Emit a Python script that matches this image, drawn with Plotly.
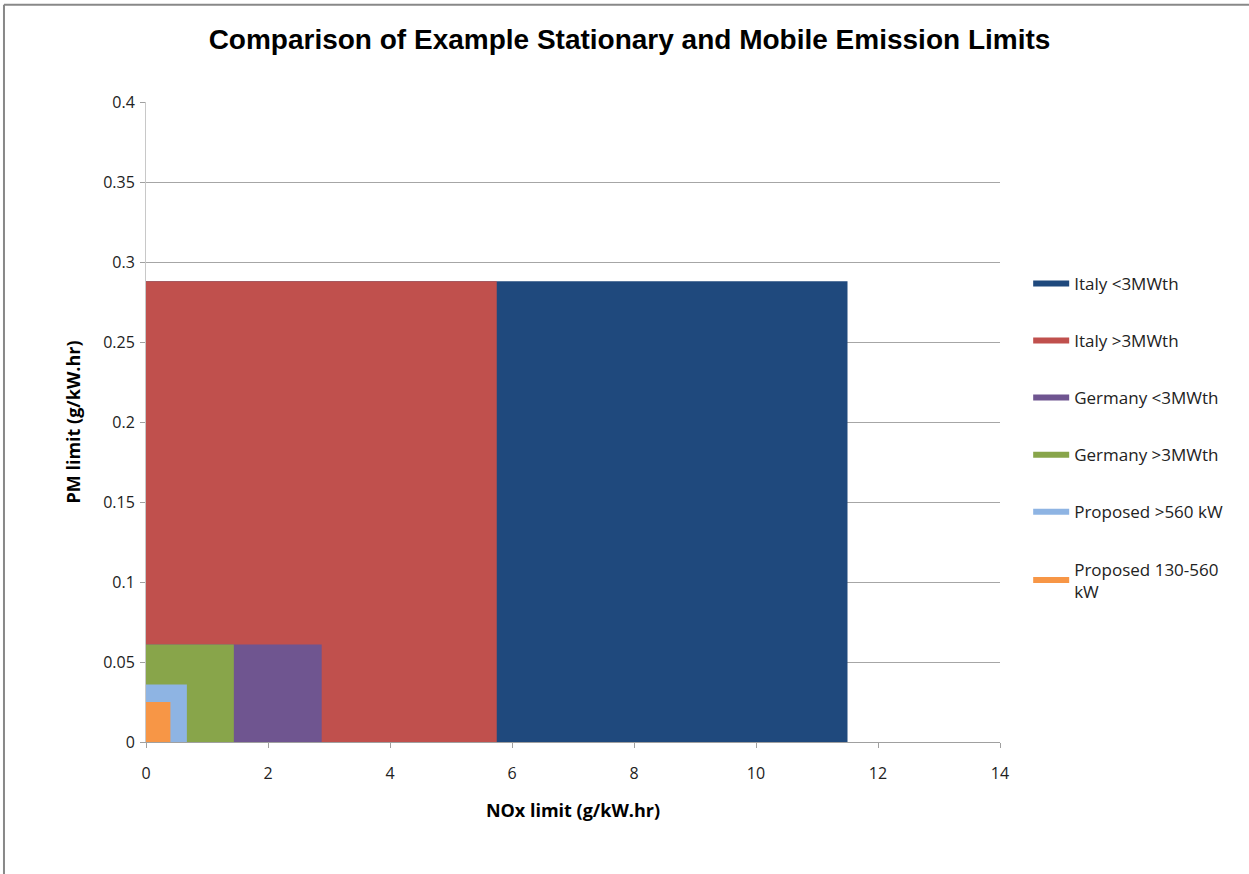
import plotly.graph_objects as go

series_names = ["Italy <3MWth", "Italy >3MWth", "Germany <3MWth", "Germany >3MWth",
                "Proposed >560 kW", "Proposed 130-560 kW"]
legend_labels = ["Italy <3MWth", "Italy >3MWth", "Germany <3MWth", "Germany >3MWth",
                 "Proposed >560 kW", "Proposed 130-560<br>kW"]
nox_limits = [11.5, 5.75, 2.88, 1.44, 0.67, 0.40]
pm_limits = [0.288, 0.288, 0.061, 0.061, 0.036, 0.025]
colors = ["#1F497D", "#C0504D", "#6F5590", "#88A54A", "#8EB4E3", "#F79646"]

x_ticks = [0, 2, 4, 6, 8, 10, 12, 14]
y_ticks = [0, 0.05, 0.1, 0.15, 0.2, 0.25, 0.3, 0.35, 0.4]
y_labels = ["0", "0.05", "0.1", "0.15", "0.2", "0.25", "0.3", "0.35", "0.4"]

TITLEFONT = "Liberation Sans, Arial, sans-serif"
BODY = "Open Sans, Liberation Sans, sans-serif"

fig = go.Figure()
for name, nx, pm, c in zip(series_names, nox_limits, pm_limits, colors):
    fig.add_trace(go.Scatter(
        x=[0, nx, nx, 0, 0], y=[0, 0, pm, pm, 0],
        fill="toself", fillcolor=c, mode="lines", line=dict(width=0, color=c),
        showlegend=False, hoverinfo="name", name=name))
for name, lab, c in zip(series_names, legend_labels, colors):
    fig.add_trace(go.Scatter(
        x=[None], y=[None], mode="lines", line=dict(width=6, color=c),
        name=lab, legendgroup=name, showlegend=True))

fig.update_layout(
    width=1249, height=874,
    paper_bgcolor="white", plot_bgcolor="white",
    margin=dict(l=146, r=249, t=102, b=132),
    title=dict(text="<b>Comparison of Example Stationary and Mobile Emission Limits</b>",
               x=0.504, xanchor="center", y=0.955, yanchor="middle",
               font=dict(family=TITLEFONT, size=28, color="black")),
    xaxis=dict(range=[0, 14], tickvals=x_ticks, ticktext=[str(v) for v in x_ticks],
               showgrid=False, zeroline=False, showline=True, linecolor="#A0A0A0",
               ticks="outside", ticklen=5, tickcolor="#A0A0A0", ticklabelstandoff=12,
               tickfont=dict(family=BODY, size=16, color="#222"),
               title=dict(text="<b>NOx limit (g/kW.hr)</b>", standoff=21,
                          font=dict(family=BODY, size=18, color="black"))),
    yaxis=dict(range=[0, 0.4], tickvals=y_ticks, ticktext=y_labels,
               showgrid=True, gridcolor="#A6A6A6", gridwidth=1, zeroline=False,
               showline=True, linecolor="#C8C8C8",
               ticks="outside", ticklen=5, tickcolor="#A0A0A0", ticklabelstandoff=2,
               tickfont=dict(family=BODY, size=16, color="#222"),
               title=dict(text="<b>PM limit (g/kW.hr)</b>", standoff=17,
                          font=dict(family=BODY, size=18, color="black"))),
    legend=dict(x=1.033, xanchor="left", y=0.744, yanchor="top",
                traceorder="grouped", tracegroupgap=32, itemwidth=36,
                font=dict(family=BODY, size=17, color="#222"),
                bgcolor="rgba(0,0,0,0)"),
    shapes=[
        dict(type="line", xref="paper", yref="paper", x0=-0.1663, x1=1.3, y0=1.152, y1=1.152,
             line=dict(color="#888888", width=2)),
        dict(type="line", xref="paper", yref="paper", x0=-0.1663, x1=-0.1663, y0=-0.3, y1=1.152,
             line=dict(color="#888888", width=2)),
    ],
)

fig.write_html("out.html", config={"displayModeBar": False},
               post_script="document.body.style.margin='0';")
